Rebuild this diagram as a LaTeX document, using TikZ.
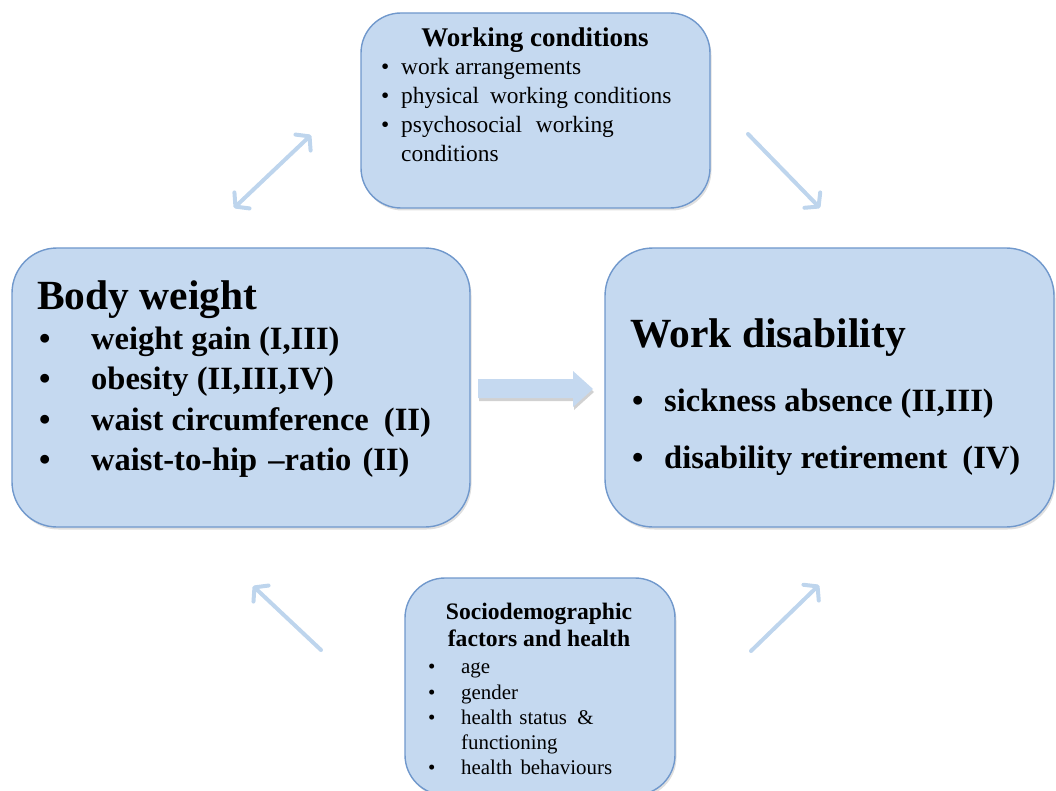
\documentclass[tikz,border=0pt]{standalone}
\usepackage{fontspec}
\setmainfont{Liberation Serif}
\usetikzlibrary{arrows.meta,shadows}
\definecolor{boxfill}{RGB}{197,217,240}
\definecolor{boxline}{RGB}{112,152,204}
\definecolor{arrowc}{RGB}{190,213,237}
\begin{document}
\begin{tikzpicture}[x=1pt,y=-1pt,
  box/.style={draw=boxline, line width=1.4pt, fill=boxfill, rectangle, inner sep=0pt,
    drop shadow={shadow xshift=1.5pt, shadow yshift=-2.5pt, opacity=0.25}},
  txt/.style={anchor=base west, inner sep=0pt},
  ctxt/.style={anchor=base, inner sep=0pt},
  wctitle/.style={font=\fontsize{27}{32}\selectfont\bfseries},
  wcitem/.style={font=\fontsize{23.4}{28}\selectfont},
  bigtitle/.style={font=\fontsize{41.5}{48}\selectfont\bfseries},
  bigitem/.style={font=\fontsize{32.5}{39}\selectfont\bfseries},
  sdtitle/.style={font=\fontsize{23.6}{28}\selectfont\bfseries},
  sditem/.style={font=\fontsize{20.9}{25}\selectfont},
  thinarrow/.style={draw=arrowc, line width=4pt, line cap=round,
    -{Straight Barb[length=9pt,width=22pt,round]}},
  dblarrow/.style={draw=arrowc, line width=4pt, line cap=round,
    {Straight Barb[length=9pt,width=22pt,round]}-{Straight Barb[length=9pt,width=22pt,round]}}
]
\useasboundingbox (0,0) rectangle (1056,791);

% boxes
\node[box, rounded corners=40pt, minimum width=349pt, minimum height=195pt] (wc) at (535.5,110.5) {};
\node[box, rounded corners=45pt, minimum width=458pt, minimum height=279pt] (bw) at (241,387.5) {};
\node[box, rounded corners=48pt, minimum width=449pt, minimum height=279pt] (wd) at (829.5,387.5) {};
\node[box, rounded corners=40pt, minimum width=270pt, minimum height=217pt] (sd) at (540,686.5) {};

% working conditions text
\node[ctxt, wctitle] (wct) at (535,47) {Working conditions};
\node[txt, wcitem] (wcb1) at (381,75) {•};
\node[txt, wcitem] (wci1) at (401,75) {work arrangements};
\node[txt, wcitem] (wcb2) at (381,104) {•};
\node[txt, wcitem] (wci2) at (401,104) {physical\hspace{5pt} working conditions};
\node[txt, wcitem] (wcb3) at (381,133) {•};
\node[txt, wcitem] (wci3) at (401,133) {psychosocial\hspace{8pt} working};
\node[txt, wcitem] (wci4) at (401,162) {conditions};

% body weight text
\node[txt, bigtitle] (bwt) at (37,309) {Body weight};
\node[txt, bigitem] (bwb1) at (39,349) {•};
\node[txt, bigitem] (bwi1) at (91,349) {weight gain (I,III)};
\node[txt, bigitem] (bwb2) at (39,389) {•};
\node[txt, bigitem] (bwi2) at (91,389) {obesity (II,III,IV)};
\node[txt, bigitem] (bwb3) at (39,430) {•};
\node[txt, bigitem] (bwi3) at (91,430) {waist circumference\hspace{7pt} (II)};
\node[txt, bigitem] (bwb4) at (39,470) {•};
\node[txt, bigitem] (bwi4) at (91,470) {waist-to-hip\hspace{3pt} –ratio\hspace{3pt} (II)};

% work disability text
\node[txt, bigtitle] (wdt) at (630,347) {Work disability};
\node[txt, bigitem] (wdb1) at (632,411) {•};
\node[txt, bigitem] (wdi1) at (664,411) {sickness absence (II,III)};
\node[txt, bigitem] (wdb2) at (632,468) {•};
\node[txt, bigitem] (wdi2) at (664,468) {disability retirement\hspace{7pt} (IV)};

% sociodemographic text
\node[ctxt, sdtitle] (sdt1) at (539,619) {Sociodemographic};
\node[ctxt, sdtitle] (sdt2) at (539,646) {factors and health};
\node[txt, sditem] (sdb1) at (428,673) {•};
\node[txt, sditem] (sdi1) at (461,673) {age};
\node[txt, sditem] (sdb2) at (428,699) {•};
\node[txt, sditem] (sdi2) at (461,699) {gender};
\node[txt, sditem] (sdb3) at (428,724) {•};
\node[txt, sditem] (sdi3) at (461,724) {health\hspace{2pt} status\hspace{5pt} \&};
\node[txt, sditem] (sdi4) at (461,749) {functioning};
\node[txt, sditem] (sdb4) at (428,774) {•};
\node[txt, sditem] (sdi5) at (461,774) {health\hspace{3pt} behaviours};

% arrow end points
\coordinate (a1s) at (234,208);
\coordinate (a1e) at (311,135);
\coordinate (a2s) at (748,134);
\coordinate (a2e) at (820,208);
\coordinate (a3s) at (321,650);
\coordinate (a3e) at (253,586);
\coordinate (a4s) at (751,651);
\coordinate (a4e) at (819,585);

\draw[dblarrow] (a1s) -- (a1e);
\draw[thinarrow] (a2s) -- (a2e);
\draw[thinarrow] (a3s) -- (a3e);
\draw[thinarrow] (a4s) -- (a4e);

% block arrow between the two main boxes
\fill[black, opacity=0.18] (479,382) -- (574,382) -- (574,374) -- (594,392) -- (574,410) -- (574,401) -- (479,401) -- cycle;
\fill[boxfill] (478,379) -- (573,379) -- (573,371) -- (593,389) -- (573,407) -- (573,398) -- (478,398) -- cycle;
\end{tikzpicture}
\end{document}
